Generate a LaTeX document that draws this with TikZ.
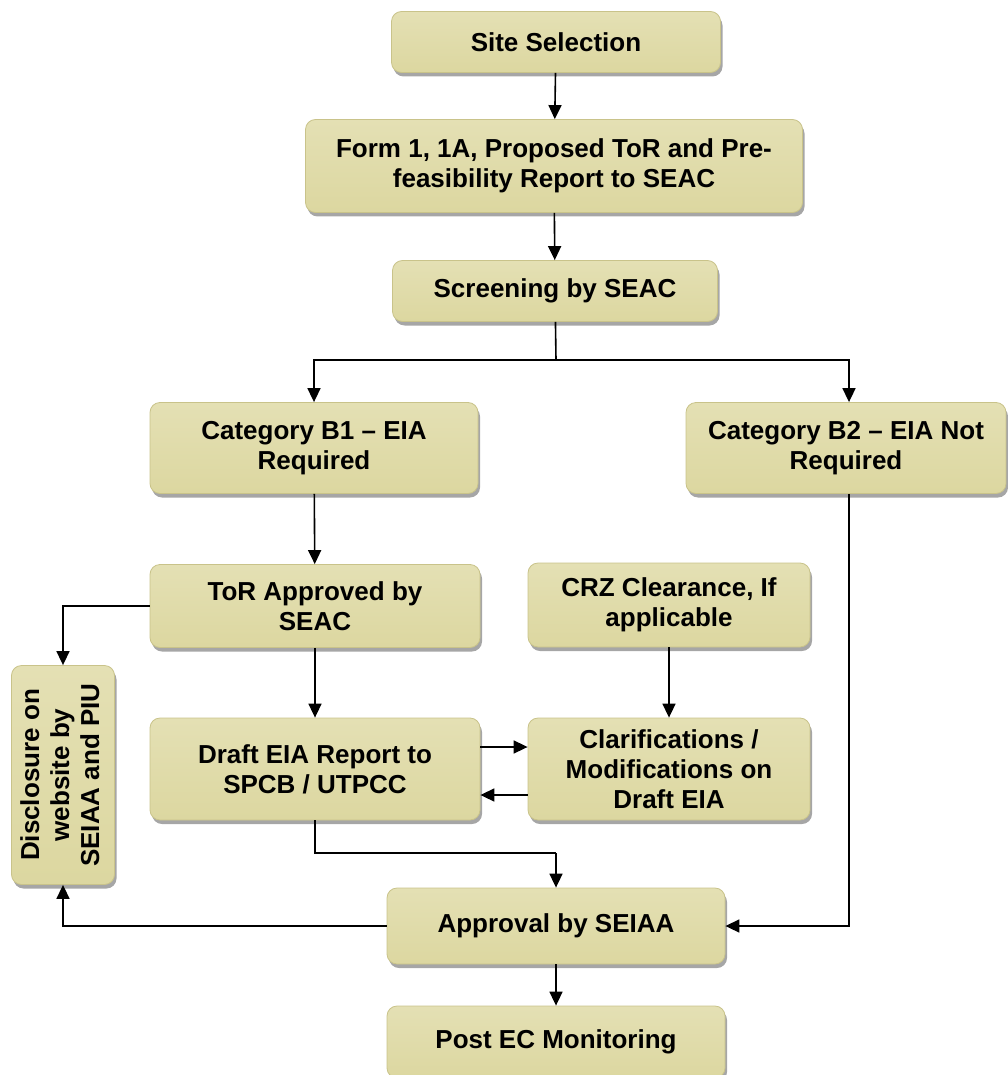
\documentclass[tikz,border=0pt]{standalone}
\usepackage{fontspec}
\setmainfont{Liberation Sans}
\usetikzlibrary{arrows.meta,shadows}
\definecolor{khaki}{HTML}{DCD7A0}
\definecolor{khakitop}{HTML}{E4E0B4}
\definecolor{khakiedge}{HTML}{C9C38A}
\begin{document}
\begin{tikzpicture}[x=1pt,y=-1pt,
    box/.style={draw=khakiedge, line width=0.8pt, rounded corners=10pt,
        top color=khakitop, bottom color=khaki, align=center, inner sep=2pt,
        font=\fontsize{26}{30}\selectfont\bfseries,
        drop shadow={shadow xshift=2pt, shadow yshift=-4pt, opacity=0.35, fill=black}},
    link/.style={line width=1.6pt, -{Triangle[length=14pt,width=13pt]}},
    line/.style={line width=1.6pt}]
    \useasboundingbox (0,0) rectangle (1007,1075);

    \node[box, minimum width=329, minimum height=61] (site) at (556,42) {Site Selection};
    \node[box, minimum width=497, minimum height=93] (form) at (554,166) {Form 1, 1A, Proposed ToR and Pre-\\feasibility Report to SEAC};
    \node[box, minimum width=325, minimum height=61] (screen) at (555,291) {Screening by SEAC};
    \node[box, minimum width=328, minimum height=91] (bone) at (314,448) {Category B1 -- EIA\\Required};
    \node[box, minimum width=320, minimum height=91] (btwo) at (846,448) {Category B2 -- EIA Not\\Required};
    \node[box, minimum width=330, minimum height=83] (tor) at (315,606) {ToR Approved by\\SEAC};
    \node[box, minimum width=282, minimum height=84] (crz) at (669,605) {CRZ Clearance, If\\applicable};
    \node[box, minimum width=103, minimum height=219] (disc) at (63,775)
        {\rotatebox{90}{\begin{tabular}{@{}c@{}}Disclosure on\\website by\\SEIAA and PIU\end{tabular}}};
    \node[box, minimum width=330, minimum height=102] (draft) at (315,769) {Draft EIA Report to\\SPCB / UTPCC};
    \node[box, minimum width=282, minimum height=102] (clar) at (669,769) {Clarifications /\\Modifications on\\Draft EIA};
    \node[box, minimum width=338, minimum height=76] (appr) at (556,926) {Approval by SEIAA};
    \node[box, minimum width=338, minimum height=72] (post) at (556,1042) {Post EC Monitoring};

    \coordinate (split) at (556,360); % branch point below screening
    \coordinate (merge) at (556,853); % join point above approval

    \draw[link] (site) -- (form);
    \draw[link] (form) -- (screen);
    \draw[line] (screen) -- (split);
    \draw[link] (split) -| (bone);
    \draw[link] (split) -| (btwo.north -| 849,0);
    \draw[link] (bone) -- (tor);
    \draw[link] (btwo.south -| 849,0) |- (appr.east);
    \draw[link] (tor.west) -| (disc.north);
    \draw[link] (tor) -- (draft);
    \draw[link] (crz) -- (clar);
    \draw[link] (draft.east |- 0,747) -- (clar.west |- 0,747);
    \draw[link] (clar.west |- 0,795) -- (draft.east |- 0,795);
    \draw[line] (draft.south) |- (merge);
    \draw[link] (merge) -- (appr);
    \draw[link] (appr.west) -| (disc.south);
    \draw[link] (appr) -- (post);
\end{tikzpicture}
\end{document}
